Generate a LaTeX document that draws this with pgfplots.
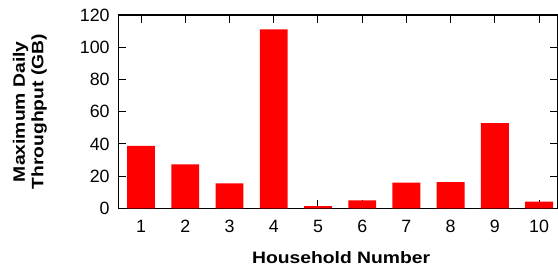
\documentclass[border=0pt]{standalone}
\usepackage{pgfplots}
\pgfplotsset{compat=1.18}
\usepackage{fontspec}
\setmainfont{Liberation Sans}
\begin{document}
\begin{tikzpicture}
\begin{axis}[
  scale only axis, width=439.2pt, height=193.5pt,
  xmin=0.49, xmax=10.42, ymin=0, ymax=120,
  ybar, bar width=0.63,
  xtick={1,...,10}, ytick={0,20,...,120},
  tick align=inside, major tick length=8pt,
  axis line style={line width=1.5pt},
  every tick/.style={black, line width=1pt},
  tick label style={font=\fontsize{17.8}{20}\selectfont},
  /pgf/number format/assume math mode=true,
  xticklabel style={yshift=-8.4pt},
  yticklabel style={xshift=-5.4pt},
  xlabel={Household Number},
  xlabel style={at={(rel axis cs:0.5,0)}, anchor=center, yshift=-49pt, xshift=3pt, font=\fontsize{16.5}{19}\selectfont\bfseries, xscale=1.17},
  ylabel={Maximum Daily\\Throughput (GB)},
  ylabel style={at={(rel axis cs:0,0.5)}, anchor=center, yshift=88.5pt, align=center, font=\fontsize{16.5}{18.5}\selectfont\bfseries, xscale=1.17},
]
\addplot[fill=red, draw=none] coordinates {
(1,38.8) (2,27.4) (3,15.6) (4,111.1) (5,1.5) (6,5.1) (7,16.0) (8,16.4) (9,53.0) (10,4.2)
};
\coordinate (O) at (rel axis cs:0,0);
\end{axis}
\pgfresetboundingbox
\path (O) ++(-118.5pt,-58.5pt) rectangle ++(558pt,267pt);
\end{tikzpicture}
\end{document}
